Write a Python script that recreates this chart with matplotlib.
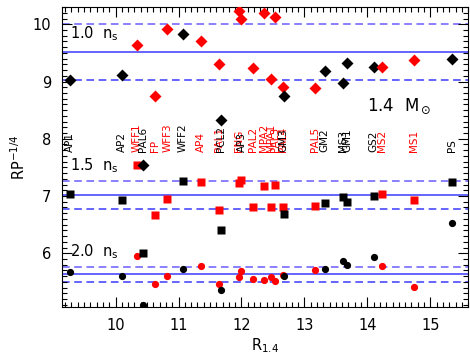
import matplotlib
matplotlib.use('Agg')
import matplotlib.pyplot as plt
from matplotlib.ticker import MultipleLocator

# equations of state: name, R_1.4, marker colour, label colour
names  = ['AP1','AP2','WFF1','PAL6','FP','WFF3','WFF2','AP4','PAL1','PCL2','ENG','AP3','PAL2',
          'MPA2','MPA1','PAL3','PAL4','GM3','PAL5','GM2','MS3','GM1','GS2','MS2','MS1','PS']
R      = [9.28,10.10,10.34,10.44,10.62,10.82,11.07,11.36,11.65,11.68,11.96,12.00,12.19,
          12.35,12.47,12.54,12.66,12.67,13.16,13.32,13.61,13.68,14.10,14.24,14.74,15.34]
mcol   = ['k','k','r','k','r','r','k','r','r','k','r','r','r',
          'r','r','r','r','k','r','k','k','k','k','r','r','k']
lcol   = ['k','k','r','k','r','r','k','r','r','k','r','k','r',
          'r','r','r','r','k','r','k','k','k','k','r','r','k']
# RP^-1/4 at 1.0, 1.5, 2.0 n_s
rp10 = [9.03,9.11,9.63,7.54,8.75,9.91,9.83,9.70,9.30,8.32,10.24,10.10,9.23,
        10.19,9.04,10.12,8.91,8.75,8.89,9.19,8.98,9.33,9.25,9.26,9.38,9.40]
rp15 = [7.04,6.93,7.54,6.01,6.66,6.95,7.27,7.25,6.76,6.40,7.23,7.28,6.80,
        7.18,6.80,7.20,6.80,6.69,6.83,6.88,6.98,6.89,7.00,7.04,6.93,7.25]
rp20 = [5.67,5.61,5.96,5.10,5.47,5.60,5.73,5.78,5.47,5.36,5.58,5.69,5.55,
        5.54,5.59,5.52,5.62,5.60,5.71,5.72,5.87,5.80,5.93,5.77,5.41,6.52]
# mean and band for each density
bands = [(9.51,10.00,9.03),(7.02,7.26,6.78),(5.63,5.76,5.50)]
band_labels = [('1.0',9.84),('1.5',7.53),('2.0',6.02)]

fig=plt.figure(figsize=(4.7,3.57),dpi=100)
ax=fig.add_axes([0.132,0.140,0.864,0.840])
for mid,hi,lo in bands:
    ax.axhline(mid,color='#3a3aff',lw=1.1,zorder=1)
    ax.axhline(hi,color='#6a5cff',lw=1.1,ls=(0,(5,3)),zorder=1)
    ax.axhline(lo,color='#3a3aff',lw=1.1,ls=(0,(5,3)),zorder=1)
for i in range(len(names)):
    ax.plot(R[i],rp10[i],'D',color=mcol[i],ms=5.8,mec='none',zorder=3)
    ax.plot(R[i],rp15[i],'s',color=mcol[i],ms=6,mec='none',zorder=3)
    ax.plot(R[i],rp20[i],'o',color=mcol[i],ms=5.2,mec='none',zorder=3)
    ax.text(R[i],7.77,names[i],rotation=90,ha='center',va='bottom',color=lcol[i],fontsize=7.5,zorder=2)
for t,y in band_labels:
    ax.text(9.28,y,t+'  n$_\\mathrm{s}$',fontsize=10.5,va='center',ha='left')
ax.text(13.99,8.57,'1.4  M$_\\odot$',fontsize=12,va='center',ha='left')
ax.set_xlim(9.15,15.6);ax.set_ylim(5.06,10.3)
ax.xaxis.set_major_locator(MultipleLocator(1));ax.xaxis.set_minor_locator(MultipleLocator(0.1))
ax.yaxis.set_major_locator(MultipleLocator(1));ax.yaxis.set_minor_locator(MultipleLocator(0.1))
ax.tick_params(which='both',direction='in',top=True,right=True,labelsize=10.5,width=0.8)
ax.tick_params(which='major',length=7,pad=8);ax.tick_params(which='minor',length=3.5)
for s in ax.spines.values(): s.set_linewidth(0.8)
ax.set_xlabel('R$_{1.4}$',fontsize=10.5,labelpad=2)
ax.set_ylabel('RP$^{-1/4}$',fontsize=10.5,labelpad=3)
fig.savefig('out.png',dpi=100)
